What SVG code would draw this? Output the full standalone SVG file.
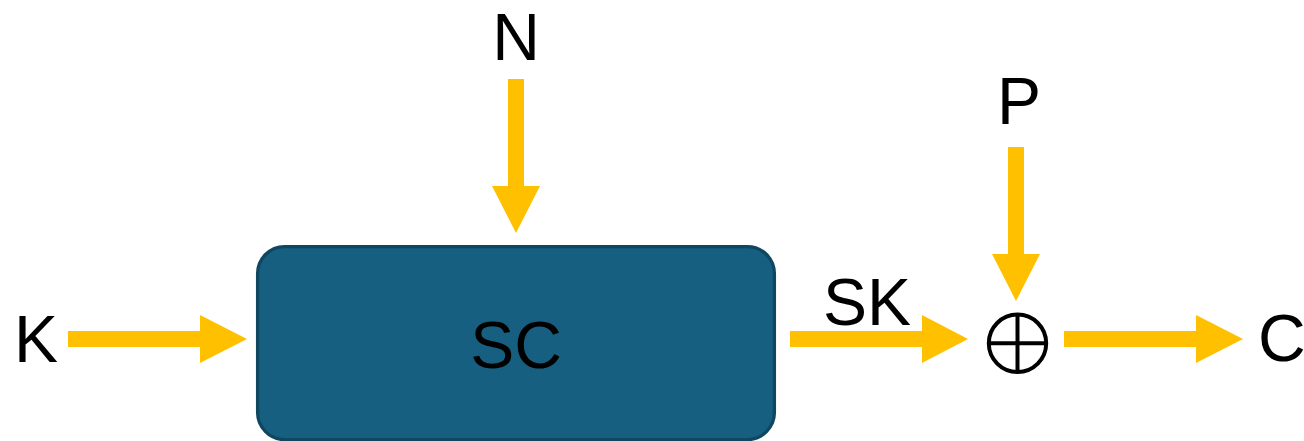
<svg xmlns="http://www.w3.org/2000/svg" width="1304" height="441" viewBox="0 0 1304 441">
  <style>
    .lbl { font-family: "Liberation Sans", Arial, sans-serif; font-size: 66px; fill: #000000; }
    .arrow { fill: #FFC000; }
    .block { fill: #175F80; stroke: #0F4660; stroke-width: 3.3; }
    .xor { fill: none; stroke: #000000; stroke-width: 4; }
  </style>
  <rect width="1304" height="441" fill="#FFFFFF"/>

  <!-- block arrows: 16px shaft, 48px wide head -->
  <g id="connectors">
    <polygon class="arrow" points="68,331 200,331 200,315 247,339 200,363 200,347 68,347"/>
    <polygon class="arrow" points="508,79 524,79 524,186 540,186 516,233 492,186 508,186"/>
    <polygon class="arrow" points="790,331 922,331 922,315 968,339 922,363 922,347 790,347"/>
    <polygon class="arrow" points="1008,147 1024,147 1024,254 1040,254 1016,301 992,254 1008,254"/>
    <polygon class="arrow" points="1064,331 1196,331 1196,315 1243,339 1196,363 1196,347 1064,347"/>
  </g>

  <g id="node-sc">
    <rect class="block" x="257.6" y="246.6" width="516.8" height="193" rx="27" ry="27"/>
    <text class="lbl" x="516" y="368" text-anchor="middle">SC</text>
  </g>

  <g id="node-xor">
    <circle class="xor" cx="1017.5" cy="343.3" r="28.7"/>
    <line class="xor" x1="988.8" y1="343.3" x2="1046.2" y2="343.3"/>
    <line class="xor" x1="1017.5" y1="314.6" x2="1017.5" y2="372"/>
  </g>

  <g id="label-k"><text class="lbl" x="14" y="362">K</text></g>
  <g id="label-n"><text class="lbl" x="516" y="60" text-anchor="middle">N</text></g>
  <g id="label-sk"><text class="lbl" x="823" y="325">SK</text></g>
  <g id="label-p"><text class="lbl" x="997" y="124">P</text></g>
  <g id="label-c"><text class="lbl" x="1258" y="361">C</text></g>
</svg>
